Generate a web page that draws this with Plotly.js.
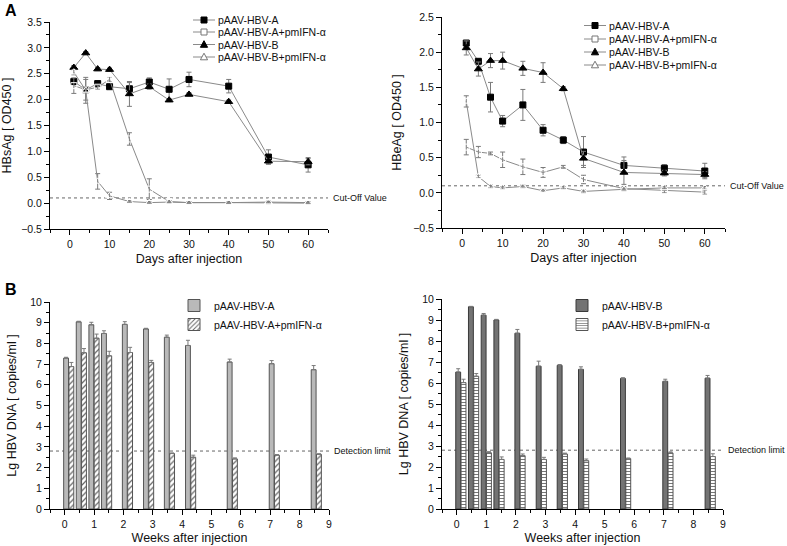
<!DOCTYPE html>
<html>
<head>
<meta charset="utf-8">
<script src="https://cdn.plot.ly/plotly-3.0.1.min.js"></script>
<style>html,body{margin:0;padding:0;background:#fff;}#chart{width:787px;height:546px;}</style>
</head>
<body>
<div id="chart"></div>
<script>
// ---------- DATA ----------
const days = [1, 4, 7, 10, 15, 20, 25, 30, 40, 50, 60];

// Panel A left: HBsAg [OD450]
const hbsA        = [2.35, 2.19, 2.31, 2.25, 2.21, 2.34, 2.20, 2.39, 2.26, 0.89, 0.74];
const hbsA_err    = [0.06, 0.05, 0.05, 0.04, 0.12, 0.08, 0.20, 0.14, 0.13, 0.14, 0.14];
const hbsAifn     = [2.27, 2.19, 2.24, 2.39, 1.24, 0.27, 0.03, 0.01, 0.01, 0.01, 0.00];
const hbsAifn_err = [0.15, 0.20, 0.04, 0.05, 0.12, 0.20, 0.02, 0.02, 0.02, 0.02, 0.02];
const hbsB        = [2.62, 2.90, 2.59, 2.58, 2.11, 2.25, 1.99, 2.10, 1.96, 0.81, 0.80];
const hbsB_err    = [0.04, 0.03, 0.03, 0.03, 0.24, 0.05, 0.03, 0.03, 0.03, 0.05, 0.06];
const hbsBifn     = [2.53, 2.18, 0.42, 0.14, 0.03, 0.01, 0.02, 0.01, 0.01, 0.02, 0.01];
const hbsBifn_err = [0.05, 0.25, 0.15, 0.07, 0.02, 0.02, 0.02, 0.02, 0.02, 0.02, 0.02];

// Panel A right: HBeAg [OD450]
const heA        = [2.13, 1.87, 1.36, 1.02, 1.25, 0.89, 0.75, 0.58, 0.39, 0.35, 0.31];
const heA_err    = [0.03, 0.03, 0.21, 0.08, 0.22, 0.08, 0.05, 0.22, 0.12, 0.05, 0.11];
const heAifn     = [0.65, 0.58, 0.56, 0.47, 0.37, 0.29, 0.37, 0.19, 0.06, 0.03, 0.01];
const heAifn_err = [0.11, 0.08, 0.02, 0.11, 0.11, 0.07, 0.02, 0.06, 0.03, 0.03, 0.03];
const heB        = [2.06, 1.76, 1.88, 1.88, 1.77, 1.71, 1.48, 0.49, 0.29, 0.28, 0.26];
const heB_err    = [0.10, 0.10, 0.10, 0.12, 0.10, 0.14, 0.03, 0.10, 0.17, 0.04, 0.04];
const heBifn     = [1.30, 0.23, 0.09, 0.07, 0.09, 0.03, 0.07, 0.02, 0.05, 0.07, 0.07];
const heBifn_err = [0.08, 0.02, 0.02, 0.02, 0.02, 0.02, 0.02, 0.02, 0.02, 0.02, 0.02];

const cutOff = 0.1;

// Panel B: Lg HBV DNA [copies/ml]
const weeks = [0.14, 0.57, 1.00, 1.43, 2.14, 2.86, 3.57, 4.29, 5.71, 7.14, 8.57];
const dnaA        = [7.29, 9.04, 8.90, 8.48, 8.92, 8.70, 8.30, 7.90, 7.10, 7.02, 6.73];
const dnaA_err    = [0.04, 0.03, 0.12, 0.13, 0.13, 0.03, 0.10, 0.25, 0.14, 0.15, 0.20];
const dnaAifn     = [6.88, 7.55, 8.25, 7.40, 7.56, 7.08, 2.68, 2.50, 2.42, 2.60, 2.64];
const dnaAifn_err = [0.20, 0.20, 0.20, 0.22, 0.25, 0.10, 0.03, 0.10, 0.05, 0.03, 0.03];
const dnaB        = [6.52, 9.63, 9.23, 9.00, 8.37, 6.80, 6.84, 6.65, 6.22, 6.08, 6.23];
const dnaB_err    = [0.16, 0.02, 0.08, 0.03, 0.18, 0.24, 0.04, 0.12, 0.03, 0.10, 0.13];
const dnaBifn     = [6.02, 6.32, 2.68, 2.36, 2.54, 2.36, 2.62, 2.30, 2.40, 2.67, 2.50];
const dnaBifn_err = [0.16, 0.13, 0.05, 0.12, 0.08, 0.10, 0.04, 0.08, 0.03, 0.05, 0.13];

const detectionLimit = 2.8;

const namesA = ['pAAV-HBV-A', 'pAAV-HBV-A+pmIFN-α', 'pAAV-HBV-B', 'pAAV-HBV-B+pmIFN-α'];

// ---------- LAYOUT HELPERS ----------
const W = 787, H = 546;
const px = x => x / W;
const py = y => 1 - y / H;
const FONT = 'Liberation Sans, Arial, sans-serif';
const LINEC = '#8a8a8a';
const ERRC = '#7a7a7a';
const TXT = '#111';

function lineTrace(y, err, sym, filled, xa, ya) {
  return {
    x: days, y: y, type: 'scatter', mode: 'lines+markers',
    xaxis: xa, yaxis: ya, showlegend: false, cliponaxis: false,
    line: {color: LINEC, width: 1},
    marker: {
      symbol: sym, size: sym.indexOf('triangle') >= 0 ? 7 : 6,
      color: filled ? '#000' : '#fff',
      line: {color: filled ? '#000' : '#777', width: 1}
    },
    error_y: {type: 'data', array: err, visible: true, color: ERRC, thickness: 1, width: 2.5}
  };
}

function barTrace(y, err, name, marker, xa, ya, off, leg) {
  return {
    x: weeks, y: y, type: 'bar', name: name, xaxis: xa, yaxis: ya,
    offset: off, width: 0.165, marker: marker, legend: leg,
    error_y: {type: 'data', symmetric: false, array: err, arrayminus: err.map(() => 0),
              visible: true, color: ERRC, thickness: 1, width: 2}
  };
}

const data = [
  lineTrace(hbsA, hbsA_err, 'square', true, 'x', 'y'),
  lineTrace(hbsAifn, hbsAifn_err, 'square-open', false, 'x', 'y'),
  lineTrace(hbsB, hbsB_err, 'triangle-up', true, 'x', 'y'),
  lineTrace(hbsBifn, hbsBifn_err, 'triangle-up-open', false, 'x', 'y'),
  lineTrace(heA, heA_err, 'square', true, 'x2', 'y2'),
  lineTrace(heAifn, heAifn_err, 'square-open', false, 'x2', 'y2'),
  lineTrace(heB, heB_err, 'triangle-up', true, 'x2', 'y2'),
  lineTrace(heBifn, heBifn_err, 'triangle-up-open', false, 'x2', 'y2'),
  barTrace(dnaA, dnaA_err, 'pAAV-HBV-A',
    {color: '#b9b9b9', line: {color: '#555', width: 1}}, 'x3', 'y3', -0.175, 'legend'),
  barTrace(dnaAifn, dnaAifn_err, 'pAAV-HBV-A+pmIFN-α',
    {color: '#fff', line: {color: '#555', width: 1},
     pattern: {shape: '/', fgcolor: '#666', bgcolor: '#fff', size: 4, solidity: 0.3}}, 'x3', 'y3', 0.005, 'legend'),
  barTrace(dnaB, dnaB_err, 'pAAV-HBV-B',
    {color: '#737373', line: {color: '#3a3a3a', width: 1}}, 'x4', 'y4', -0.175, 'legend2'),
  barTrace(dnaBifn, dnaBifn_err, 'pAAV-HBV-B+pmIFN-α',
    {color: '#fff', line: {color: '#555', width: 1},
     pattern: {shape: '-', fgcolor: '#777', bgcolor: '#fff', size: 3, solidity: 0.35}}, 'x4', 'y4', 0.005, 'legend2')
];

const axBase = {
  showline: true, linecolor: '#000', linewidth: 1, mirror: false,
  ticks: 'outside', ticklen: 5, tickwidth: 1, tickcolor: '#000',
  showgrid: false, zeroline: false, fixedrange: true,
  tickfont: {family: FONT, size: 10.5, color: TXT}
};
function ax(extra) { return Object.assign({}, axBase, extra); }
const titleFont = {family: FONT, size: 12.5, color: TXT};

const layout = {
  width: W, height: H, margin: {l: 0, r: 0, t: 0, b: 0},
  paper_bgcolor: '#fff', plot_bgcolor: 'rgba(0,0,0,0)',
  font: {family: FONT, color: TXT},
  barmode: 'overlay',
  xaxis: ax({domain: [px(50), px(328)], anchor: 'y', range: [-5, 65], tickmode: 'linear', tick0: 0, dtick: 10,
    minor: {ticks: 'outside', ticklen: 3, tickcolor: '#000', dtick: 5, tick0: 0},
    title: {text: 'Days after injection', font: titleFont, standoff: 5}}),
  yaxis: ax({domain: [py(229), py(22)], anchor: 'x', range: [-0.5, 3.5], tickmode: 'linear', tick0: 0, dtick: 0.5, tickformat: '.1f',
    minor: {ticks: 'outside', ticklen: 3, tickcolor: '#000', dtick: 0.25, tick0: 0},
    title: {text: 'HBsAg [ OD450 ]', font: titleFont, standoff: 8}}),
  xaxis2: ax({domain: [px(442), px(725)], anchor: 'y2', range: [-5, 65], tickmode: 'linear', tick0: 0, dtick: 10,
    minor: {ticks: 'outside', ticklen: 3, tickcolor: '#000', dtick: 5, tick0: 0},
    title: {text: 'Days after injection', font: titleFont, standoff: 5}}),
  yaxis2: ax({domain: [py(228), py(17)], anchor: 'x2', range: [-0.5, 2.5], tickmode: 'linear', tick0: 0, dtick: 0.5, tickformat: '.1f',
    minor: {ticks: 'outside', ticklen: 3, tickcolor: '#000', dtick: 0.25, tick0: 0},
    title: {text: 'HBeAg [ OD450 ]', font: titleFont, standoff: 8}}),
  xaxis3: ax({domain: [px(50), px(329)], anchor: 'y3', range: [-0.5, 9], tickmode: 'linear', tick0: 0, dtick: 1,
    minor: {ticks: 'outside', ticklen: 3, tickcolor: '#000', dtick: 0.5, tick0: 0},
    title: {text: 'Weeks after injection', font: titleFont, standoff: 4}}),
  yaxis3: ax({domain: [py(509), py(302)], anchor: 'x3', range: [0, 10], tickmode: 'linear', tick0: 0, dtick: 1,
    minor: {ticks: 'outside', ticklen: 3, tickcolor: '#000', dtick: 0.5, tick0: 0},
    title: {text: 'Lg HBV DNA [ copies/ml ]', font: titleFont, standoff: 10}}),
  xaxis4: ax({domain: [px(442), px(723)], anchor: 'y4', range: [-0.5, 9], tickmode: 'linear', tick0: 0, dtick: 1,
    minor: {ticks: 'outside', ticklen: 3, tickcolor: '#000', dtick: 0.5, tick0: 0},
    title: {text: 'Weeks after injection', font: titleFont, standoff: 4}}),
  yaxis4: ax({domain: [py(509), py(299)], anchor: 'x4', range: [0, 10], tickmode: 'linear', tick0: 0, dtick: 1,
    minor: {ticks: 'outside', ticklen: 3, tickcolor: '#000', dtick: 0.5, tick0: 0},
    title: {text: 'Lg HBV DNA [ copies/ml ]', font: titleFont, standoff: 10}}),
  legend: {x: px(174), y: py(291), xanchor: 'left', yanchor: 'top', bgcolor: 'rgba(0,0,0,0)',
    font: {family: FONT, size: 10.5, color: TXT}, tracegroupgap: 0},
  legend2: {x: px(562), y: py(291), xanchor: 'left', yanchor: 'top', bgcolor: 'rgba(0,0,0,0)',
    font: {family: FONT, size: 10.5, color: TXT}, tracegroupgap: 0},
  shapes: [],
  annotations: []
};

// reference lines
const refLines = [['x', 'y', cutOff], ['x2', 'y2', cutOff], ['x3', 'y3', detectionLimit], ['x4', 'y4', detectionLimit]];
refLines.forEach(r => {
  layout.shapes.push({type: 'line', xref: r[0] + ' domain', yref: r[1], x0: 0, x1: 1, y0: r[2], y1: r[2],
    line: {color: '#666', width: 1, dash: 'dot'}, layer: 'below'});
});
const refText = [['x', 'y', cutOff, 'Cut-Off Value'], ['x2', 'y2', cutOff, 'Cut-Off Value'],
                 ['x3', 'y3', detectionLimit, 'Detection limit'], ['x4', 'y4', detectionLimit, 'Detection limit']];
refText.forEach(r => {
  layout.annotations.push({xref: r[0] + ' domain', yref: r[1], x: 1, y: r[2], xanchor: 'left', yanchor: 'middle',
    xshift: 3, text: r[3], showarrow: false, font: {family: FONT, size: 9, color: TXT}});
});

// panel letters
layout.annotations.push({xref: 'paper', yref: 'paper', x: px(3), y: py(10), xanchor: 'left', yanchor: 'middle',
  text: '<b>A</b>', showarrow: false, font: {family: FONT, size: 16, color: '#000'}});
layout.annotations.push({xref: 'paper', yref: 'paper', x: px(3), y: py(289), xanchor: 'left', yanchor: 'middle',
  text: '<b>B</b>', showarrow: false, font: {family: FONT, size: 16, color: '#000'}});

// custom legends for panel A (line + marker + text)
const legSyms = ['sq', 'sqo', 'tri', 'trio'];
function addLegend(rows, lx0, lx1, mx, tx) {
  rows.forEach((ry, i) => {
    layout.shapes.push({type: 'line', xref: 'paper', yref: 'paper', x0: px(lx0), x1: px(lx1), y0: py(ry), y1: py(ry),
      line: {color: LINEC, width: 1}});
    const s = legSyms[i];
    const filled = (s === 'sq' || s === 'tri');
    const fill = filled ? '#000' : '#fff';
    const lc = filled ? '#000' : '#777';
    if (s === 'sq' || s === 'sqo') {
      layout.shapes.push({type: 'rect', xref: 'paper', yref: 'paper', x0: px(mx - 3), x1: px(mx + 3),
        y0: py(ry + 3), y1: py(ry - 3), fillcolor: fill, line: {color: lc, width: 1}});
    } else {
      const path = 'M' + px(mx) + ',' + py(ry - 3.8) + ' L' + px(mx - 3.6) + ',' + py(ry + 2.8) +
                   ' L' + px(mx + 3.6) + ',' + py(ry + 2.8) + ' Z';
      layout.shapes.push({type: 'path', xref: 'paper', yref: 'paper', path: path, fillcolor: fill,
        line: {color: lc, width: 1}});
    }
    layout.annotations.push({xref: 'paper', yref: 'paper', x: px(tx), y: py(ry), xanchor: 'left', yanchor: 'middle',
      text: namesA[i], showarrow: false, font: {family: FONT, size: 10.5, color: TXT}});
  });
}
addLegend([20, 32, 44.5, 57], 193, 215, 204, 216);
addLegend([25.5, 39, 52, 65], 584, 606, 595, 607);

Plotly.newPlot('chart', data, layout, {staticPlot: true});
</script>
</body>
</html>
